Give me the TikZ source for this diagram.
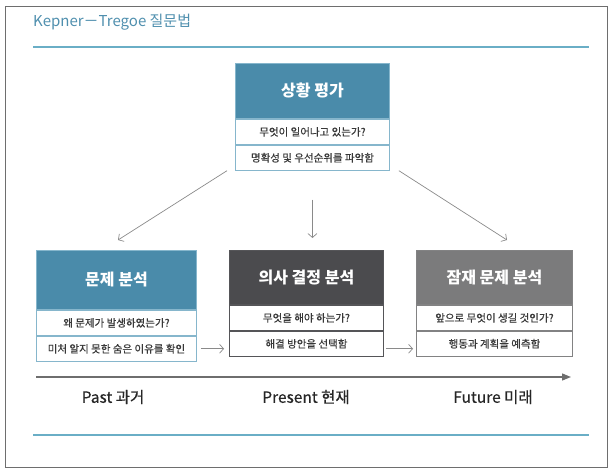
\documentclass[tikz,border=0pt]{standalone}
\usepackage{fontspec}
\setmainfont{Noto Sans CJK KR}
\newfontfamily\medfont[FakeBold=0.35]{Noto Sans CJK KR}
\usetikzlibrary{arrows.meta,calc}
\definecolor{tealH}{HTML}{4A8BAA}
\definecolor{tealB}{HTML}{86B6CC}
\definecolor{tealL}{HTML}{6AAEC6}
\definecolor{tealT}{HTML}{4F8FAE}
\definecolor{darkH}{HTML}{4B4B4E}
\definecolor{darkB}{HTML}{555558}
\definecolor{grayH}{HTML}{7B7B7C}
\definecolor{grayB}{HTML}{828283}
\definecolor{txt}{HTML}{383838}
\definecolor{arrc}{HTML}{8A8A8A}
\definecolor{framec}{HTML}{6E6E6E}
\tikzset{
  hdrbox/.style={rectangle, anchor=north west, inner sep=0pt, line width=0.9pt,
    minimum height=55pt, text=white, font=\fontsize{16}{18}\selectfont\bfseries},
  rowbox/.style={rectangle, anchor=north, inner sep=0pt, line width=0.9pt, fill=white,
    minimum height=25pt, text=txt, font=\medfont\fontsize{10.5}{12}\selectfont},
  arr/.style={draw=arrc, line width=0.7pt, -{Straight Barb[length=4pt,width=9pt]}},
  timeline/.style={draw=framec, line width=1.3pt, -{Triangle[length=9pt,width=7pt]}},
  lbl/.style={text=black!85, font=\medfont\fontsize{15.5}{17}\selectfont},
  tealrule/.style={draw=tealL, line width=1.5pt}
}
\begin{document}
\begin{tikzpicture}[x=1pt,y=-1pt]
\useasboundingbox (0,0) rectangle (612,473);
\draw[framec, line width=0.8pt] (5,6) rectangle (607,467);

% title and rules
\node[anchor=west, inner sep=0pt, text=tealT, font=\fontsize{15}{17}\selectfont] (title) at (33,22) {Kepner－Tregoe 질문법};
\coordinate (r1a) at (33,47); \coordinate (r1b) at (589,47);
\coordinate (r2a) at (33,435); \coordinate (r2b) at (589,435);
\draw[tealrule] (r1a) -- (r1b);
\draw[tealrule] (r2a) -- (r2b);

% top box
\node[hdrbox, fill=tealH, draw=tealB, minimum width=154pt] (top) at (235,63) {상황 평가};
\node[rowbox, draw=tealB, minimum width=154pt] (top1) at (top.south) {무엇이 일어나고 있는가?};
\node[rowbox, draw=tealB, minimum width=154pt] (top2) at (top1.south) {명확성 및 우선순위를 파악함};

% left box
\node[hdrbox, fill=tealH, draw=tealB, minimum width=160pt, minimum height=59pt] (lft) at (36,250) {문제 분석};
\node[rowbox, draw=tealB, minimum width=160pt] (l1) at (lft.south) {왜 문제가 발생하였는가?};
\node[rowbox, draw=tealB, minimum width=160pt] (l2) at (l1.south) {미처 알지 못한 숨은 이유를 확인};

% middle box
\node[hdrbox, fill=darkH, draw=darkB, minimum width=154pt, minimum height=54pt] (mid) at (229,250) {의사 결정 분석};
\node[rowbox, draw=darkB, minimum width=154pt] (m1) at (mid.south) {무엇을 해야 하는가?};
\node[rowbox, draw=darkB, minimum width=154pt] (m2) at (m1.south) {해결 방안을 선택함};

% right box
\node[hdrbox, fill=grayH, draw=grayB, minimum width=156pt, minimum height=54pt] (rgt) at (416,250) {잠재 문제 분석};
\node[rowbox, draw=grayB, minimum width=156pt] (r1) at (rgt.south) {앞으로 무엇이 생길 것인가?};
\node[rowbox, draw=grayB, minimum width=156pt] (r2) at (r1.south) {행동과 계획을 예측함};

% connectors
\draw[arr] ([xshift=-8pt]top2.south west) -- ([xshift=82pt,yshift=10pt]lft.north west);
\draw[arr] ([xshift=9pt]top2.south east) -- ([xshift=91pt,yshift=10pt]rgt.north west);
\draw[arr] ([yshift=-29pt]top2.south) -- ([yshift=12pt]top2.south |- mid.north);
\draw[arr] ([xshift=4pt]l2.east) -- ([xshift=-5pt]l2.east -| m2.west);
\draw[arr] ([xshift=2pt]l2.east -| m2.east) -- ([xshift=-3pt]l2.east -| r2.west);

% timeline
\coordinate (t0) at (36,377); \coordinate (t1) at (571,377);
\draw[timeline] (t0) -- (t1);
\node[lbl] (past) at (113,397) {Past 과거};
\node[lbl] (present) at (306,397) {Present 현재};
\node[lbl] (future) at (493,397) {Future 미래};
\end{tikzpicture}
\end{document}
